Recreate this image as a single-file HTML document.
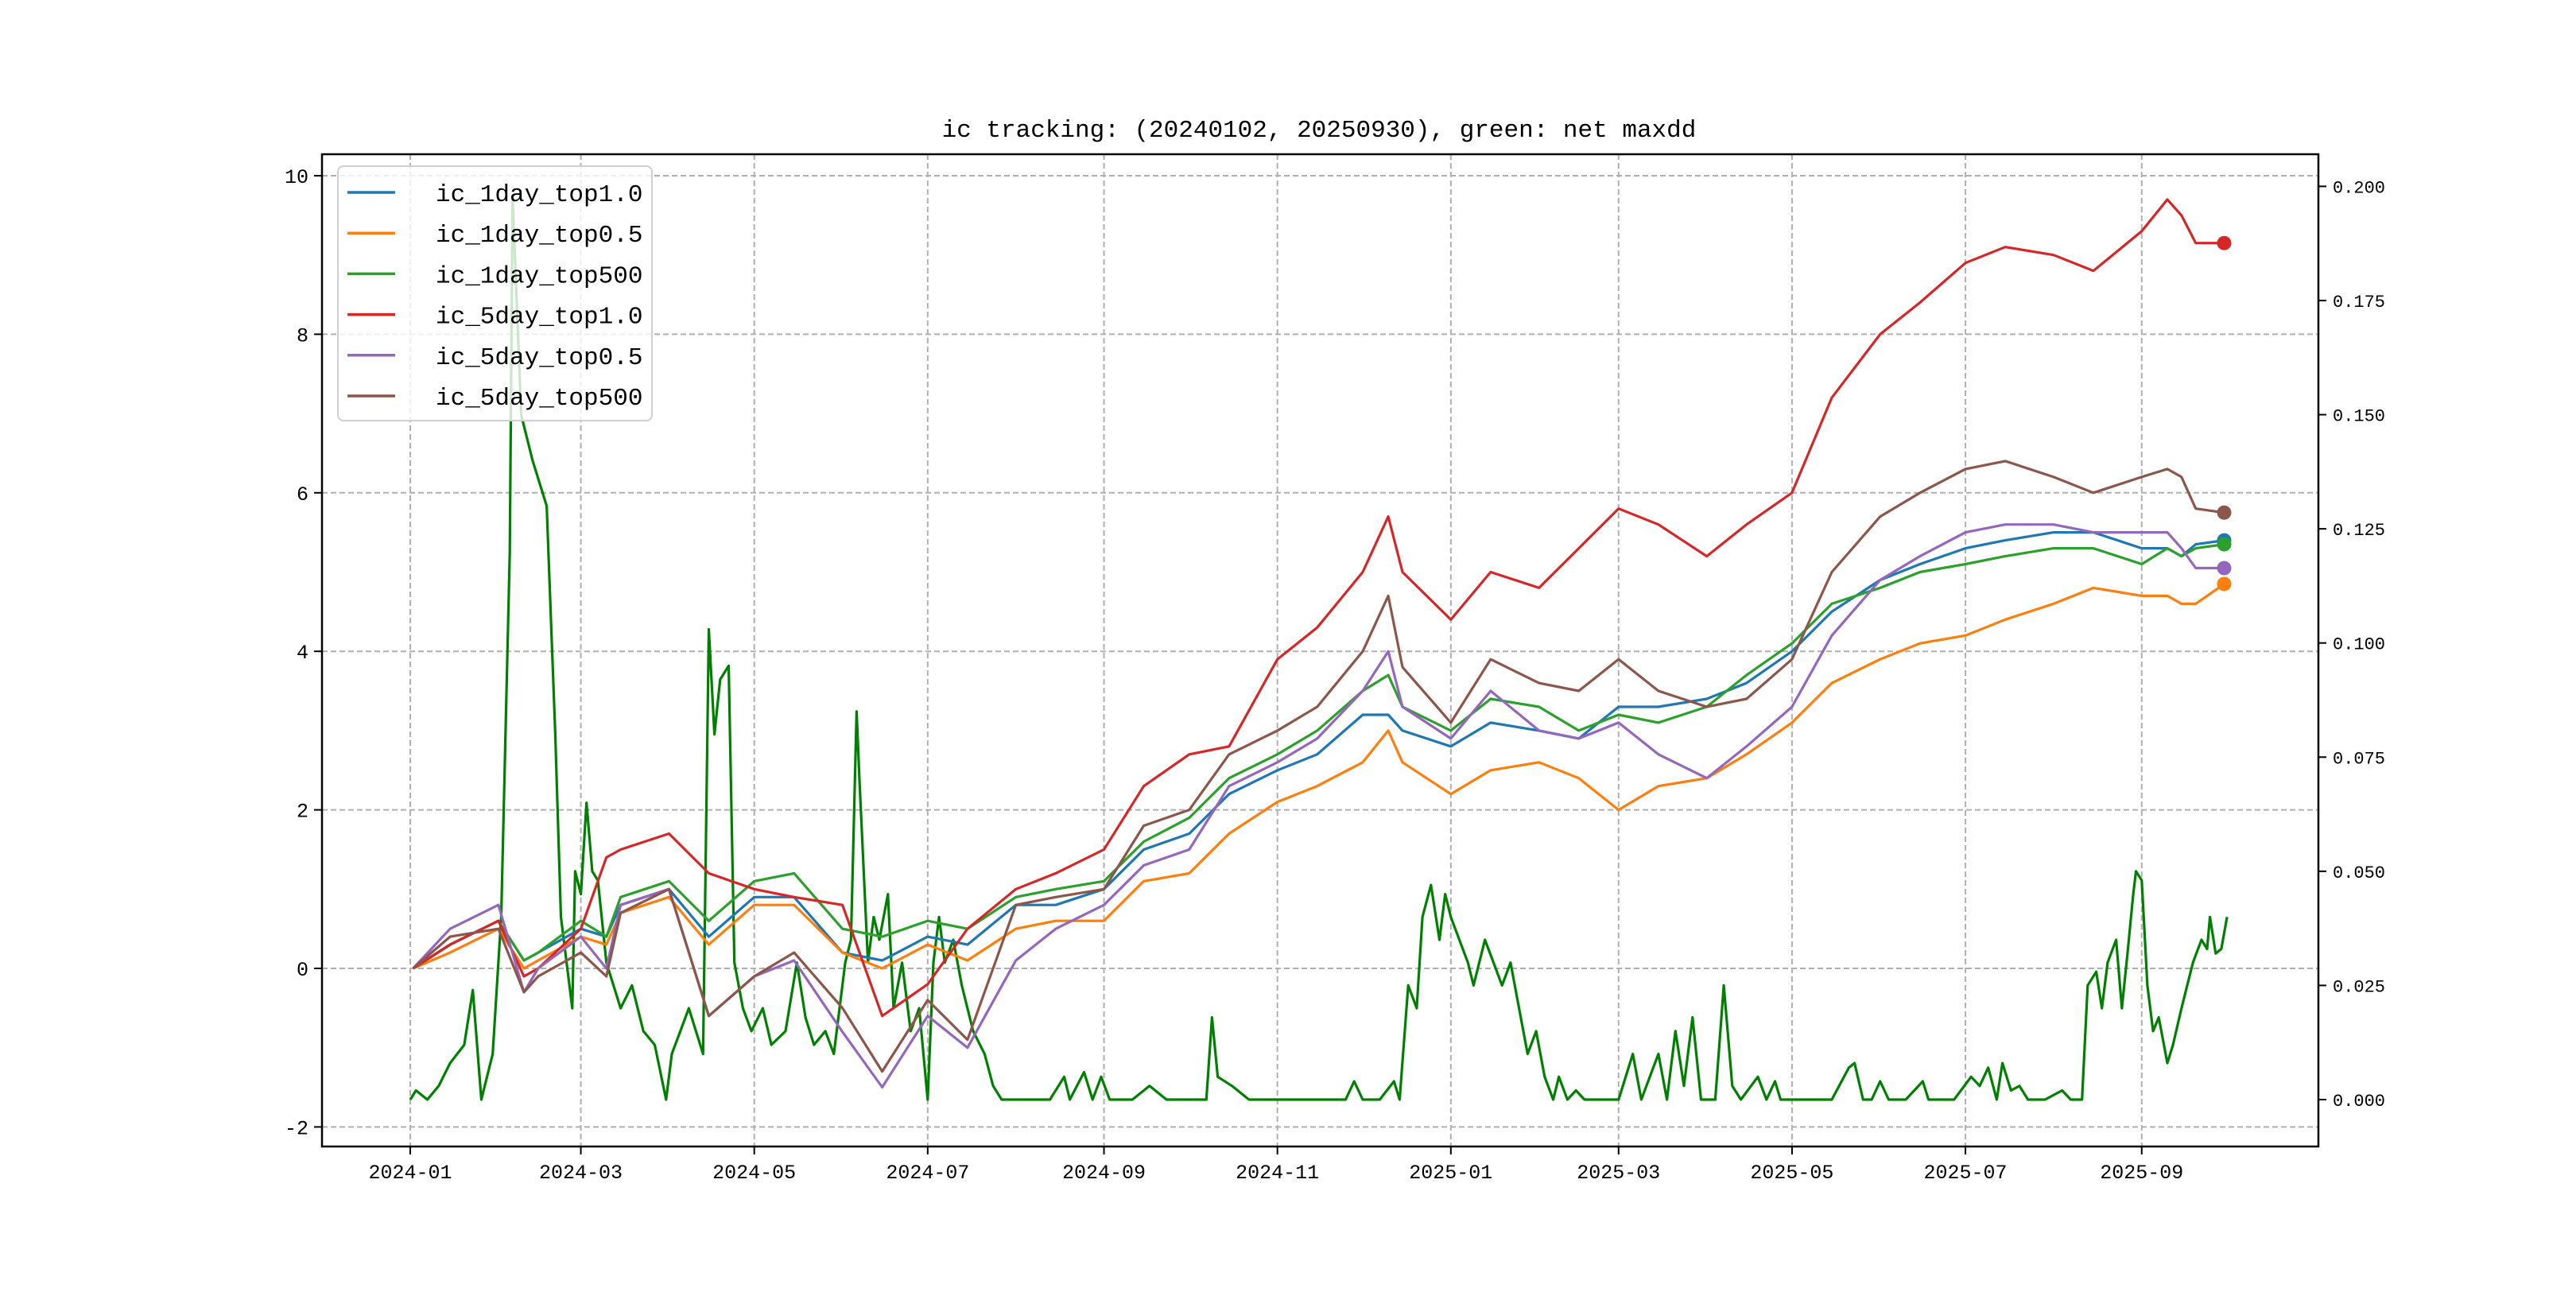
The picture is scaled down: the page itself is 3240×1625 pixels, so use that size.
<!DOCTYPE html>
<html><head><meta charset="utf-8"><style>
html,body{margin:0;padding:0;background:#fff;}
svg text{font-family:"Liberation Mono","Noto Sans CJK SC",monospace;fill:#000;}
</style></head><body>
<svg id="chart" xmlns="http://www.w3.org/2000/svg" width="3240" height="1620" viewBox="0 0 3240 1620">
<rect x="0" y="0" width="3240" height="1620" fill="#fff"/>
<text x="1659" y="172" font-size="31" text-anchor="middle">ic tracking: (20240102, 20250930), green: net maxdd</text>
<g id="grid"></g>
<g id="series"></g>
<rect x="405" y="194" width="2511" height="1248" fill="none" stroke="#000" stroke-width="2.5"/>
<g id="axes"></g>
<g id="legend"></g>
</svg>
<script>
const dates = ["2024-01-02","2024-01-15","2024-02-01","2024-02-10","2024-02-15","2024-03-01","2024-03-10","2024-03-15","2024-04-01","2024-04-15","2024-05-01","2024-05-15","2024-06-01","2024-06-15","2024-07-01","2024-07-15","2024-08-01","2024-08-15","2024-09-01","2024-09-15","2024-10-01","2024-10-15","2024-11-01","2024-11-15","2024-12-01","2024-12-10","2024-12-15","2025-01-01","2025-01-15","2025-02-01","2025-02-15","2025-03-01","2025-03-15","2025-04-01","2025-04-15","2025-05-01","2025-05-15","2025-06-01","2025-06-15","2025-07-01","2025-07-15","2025-08-01","2025-08-15","2025-09-01","2025-09-10","2025-09-15","2025-09-20","2025-09-30"];
const ic1dayTop10 = [0,0.3,0.6,0.1,0.2,0.5,0.4,0.8,1.0,0.4,0.9,0.9,0.2,0.1,0.4,0.3,0.8,0.8,1.0,1.5,1.7,2.2,2.5,2.7,3.2,3.2,3.0,2.8,3.1,3.0,2.9,3.3,3.3,3.4,3.6,4.0,4.5,4.9,5.1,5.3,5.4,5.5,5.5,5.3,5.3,5.2,5.35,5.4];
const ic1dayTop05 = [0,0.2,0.5,0.0,0.1,0.4,0.3,0.7,0.9,0.3,0.8,0.8,0.2,0.0,0.3,0.1,0.5,0.6,0.6,1.1,1.2,1.7,2.1,2.3,2.6,3.0,2.6,2.2,2.5,2.6,2.4,2.0,2.3,2.4,2.7,3.1,3.6,3.9,4.1,4.2,4.4,4.6,4.8,4.7,4.7,4.6,4.6,4.85];
const ic1dayTop500 = [0,0.3,0.6,0.1,0.2,0.6,0.4,0.9,1.1,0.6,1.1,1.2,0.5,0.4,0.6,0.5,0.9,1.0,1.1,1.6,1.9,2.4,2.7,3.0,3.5,3.7,3.3,3.0,3.4,3.3,3.0,3.2,3.1,3.3,3.7,4.1,4.6,4.8,5.0,5.1,5.2,5.3,5.3,5.1,5.3,5.2,5.3,5.35];
const ic5dayTop10 = [0,0.3,0.6,-0.1,0.0,0.5,1.4,1.5,1.7,1.2,1.0,0.9,0.8,-0.6,-0.2,0.5,1.0,1.2,1.5,2.3,2.7,2.8,3.9,4.3,5.0,5.7,5.0,4.4,5.0,4.8,5.3,5.8,5.6,5.2,5.6,6.0,7.2,8.0,8.4,8.9,9.1,9.0,8.8,9.3,9.7,9.5,9.15,9.15];
const ic5dayTop05 = [0,0.5,0.8,-0.3,0.0,0.4,0.0,0.8,1.0,-0.6,-0.1,0.1,-0.8,-1.5,-0.6,-1.0,0.1,0.5,0.8,1.3,1.5,2.3,2.6,2.9,3.5,4.0,3.3,2.9,3.5,3.0,2.9,3.1,2.7,2.4,2.8,3.3,4.2,4.9,5.2,5.5,5.6,5.6,5.5,5.5,5.5,5.3,5.05,5.05];
const ic5dayTop500 = [0,0.4,0.5,-0.3,-0.1,0.2,-0.1,0.7,1.0,-0.6,-0.1,0.2,-0.5,-1.3,-0.4,-0.9,0.8,0.9,1.0,1.8,2.0,2.7,3.0,3.3,4.0,4.7,3.8,3.1,3.9,3.6,3.5,3.9,3.5,3.3,3.4,3.9,5.0,5.7,6.0,6.3,6.4,6.2,6.0,6.2,6.3,6.2,5.8,5.75];
const ddDays = [0,2,6,10,14,19,22,25,29,32,35,36,39,43,48,51,53,57,58,60,62,64,66,69,74,78,82,86,90,92,95,98,103,105,107,109,112,114,117,120,124,127,132,136,139,142,146,149,153,155,157,158,161,163,165,168,170,173,176,179,182,184,186,188,191,194,198,202,205,208,214,220,225,230,232,237,240,243,246,254,260,266,272,280,282,284,289,295,301,306,312,318,329,332,335,341,346,348,351,354,356,359,362,364,366,369,372,374,378,381,384,387,390,393,396,399,402,404,407,410,413,419,425,430,433,436,439,442,445,448,451,454,459,462,465,468,474,477,480,482,491,500,506,508,511,514,517,520,526,532,534,543,549,552,555,558,560,563,566,569,575,581,584,588,590,593,595,597,600,602,604,606,607,609,611,613,615,618,620,623,627,630,632,633,635,637,639];
const netMaxdd = [0,0.002,0,0.003,0.008,0.012,0.024,0,0.010,0.040,0.120,0.198,0.150,0.140,0.130,0.080,0.040,0.020,0.050,0.045,0.065,0.050,0.048,0.030,0.020,0.025,0.015,0.012,0,0.010,0.015,0.020,0.010,0.103,0.080,0.092,0.095,0.030,0.020,0.015,0.020,0.012,0.015,0.030,0.018,0.012,0.015,0.010,0.030,0.035,0.085,0.070,0.030,0.040,0.035,0.045,0.020,0.030,0.015,0.020,0,0.030,0.040,0.030,0.035,0.025,0.015,0.010,0.003,0,0,0,0,0.005,0,0.006,0,0.005,0,0,0.003,0,0,0,0.018,0.005,0.003,0,0,0,0,0,0,0.004,0,0,0.004,0,0.025,0.020,0.040,0.047,0.035,0.045,0.040,0.035,0.030,0.025,0.035,0.030,0.025,0.030,0.020,0.010,0.015,0.005,0,0.005,0,0.002,0,0,0,0.010,0,0.005,0.010,0,0.015,0.003,0.018,0,0,0.025,0.003,0,0.005,0,0.004,0,0,0,0.007,0.008,0,0,0.004,0,0,0.004,0,0,0.005,0.003,0.007,0,0.008,0.002,0.003,0,0,0.002,0,0,0.025,0.028,0.020,0.030,0.035,0.020,0.032,0.045,0.050,0.048,0.025,0.015,0.018,0.008,0.012,0.020,0.030,0.035,0.033,0.040,0.032,0.033,0.040];
const xTickLabels = ["2024-01","2024-03","2024-05","2024-07","2024-09","2024-11","2025-01","2025-03","2025-05","2025-07","2025-09"];
const yLeftTicks = [-2,0,2,4,6,8,10];
const yRightTicks = [0,0.025,0.05,0.075,0.1,0.125,0.15,0.175,0.2];
const seriesNames = ["ic_1day_top1.0","ic_1day_top0.5","ic_1day_top500","ic_5day_top1.0","ic_5day_top0.5","ic_5day_top500"];
const seriesColors = ["#1f77b4","#ff7f0e","#2ca02c","#d62728","#9467bd","#8c564b"];

const NS="http://www.w3.org/2000/svg";
const T0=Date.UTC(2024,0,1);
function dayOf(s){const p=s.split("-");return (Date.UTC(+p[0],+p[1]-1,+(p[2]||1))-T0)/86400000;}
function xScale(day){return 516+day*3.576;}
function yLeft(v){return 1218-v*99.7;}
function yRight(v){return 1383-v*5743;}
function mk(tag,attrs,parent){const e=document.createElementNS(NS,tag);for(const k in attrs)e.setAttribute(k,attrs[k]);parent.appendChild(e);return e;}
const grid=document.getElementById("grid"),axes=document.getElementById("axes"),ser=document.getElementById("series"),leg=document.getElementById("legend");

xTickLabels.forEach(lb=>{
  const x=xScale(dayOf(lb));
  const g=mk("line",{x1:x,x2:x,y1:194,y2:1442,stroke:"#b0b0b0","stroke-width":2,"stroke-dasharray":"7,4"},grid);
  
  
  const t=mk("line",{x1:x,x2:x,y1:1442,y2:1452,stroke:"#000","stroke-width":2},axes);
  
  
  const tx=mk("text",{x:x,y:1482,"font-size":25,"text-anchor":"middle"},axes);
  tx.textContent=lb;
  
  
});
yLeftTicks.forEach(v=>{
  const y=yLeft(v);
  const g=mk("line",{x1:405,x2:2916,y1:y,y2:y,stroke:"#b0b0b0","stroke-width":2,"stroke-dasharray":"7,4"},grid);
  
  
  const t=mk("line",{x1:395,x2:405,y1:y,y2:y,stroke:"#000","stroke-width":2},axes);
  
  
  const tx=mk("text",{x:388,y:y+9,"font-size":25,"text-anchor":"end"},axes);
  tx.textContent=String(v);
  
  
});
yRightTicks.forEach(v=>{
  const y=yRight(v);
  const t=mk("line",{x1:2916,x2:2926,y1:y,y2:y,stroke:"#000","stroke-width":2},axes);
  
  
  const tx=mk("text",{x:2934,y:y+8,"font-size":22},axes);
  tx.textContent=v.toFixed(3);
  
  
});

{
  const pts=ddDays.map((d,i)=>xScale(d).toFixed(1)+","+yRight(netMaxdd[i]).toFixed(1)).join(" ");
  const p=mk("polyline",{points:pts,fill:"none",stroke:"#008000","stroke-width":3.2,"stroke-linejoin":"round"},ser);
  
  
}
const allSeries=[ic1dayTop10,ic1dayTop05,ic1dayTop500,ic5dayTop10,ic5dayTop05,ic5dayTop500];
allSeries.forEach((vals,si)=>{
  const pts=vals.map((v,i)=>xScale(dayOf(dates[i])).toFixed(1)+","+yLeft(v).toFixed(1)).join(" ");
  const p=mk("polyline",{points:pts,fill:"none",stroke:seriesColors[si],"stroke-width":3.2,"stroke-linejoin":"round"},ser);
  
  
  const li=vals.length-1;
  const c=mk("circle",{cx:xScale(dayOf(dates[li])),cy:yLeft(vals[li]),r:9,fill:seriesColors[si]},ser);
  
  
});

{
  const box=mk("rect",{x:425,y:209,width:395,height:320,rx:7,fill:"#fff","fill-opacity":0.8,stroke:"#d0d0d0","stroke-width":2},leg);
  
  
  seriesNames.forEach((n,i)=>{
    const y=242+i*51.2;
    const l=mk("line",{x1:437,x2:497,y1:y,y2:y,stroke:seriesColors[i],"stroke-width":3.5},leg);
    
    
    const t=mk("text",{x:548,y:y+11,"font-size":31},leg);
    t.textContent=n;
    
    
  });
}
</script>
</body></html>
